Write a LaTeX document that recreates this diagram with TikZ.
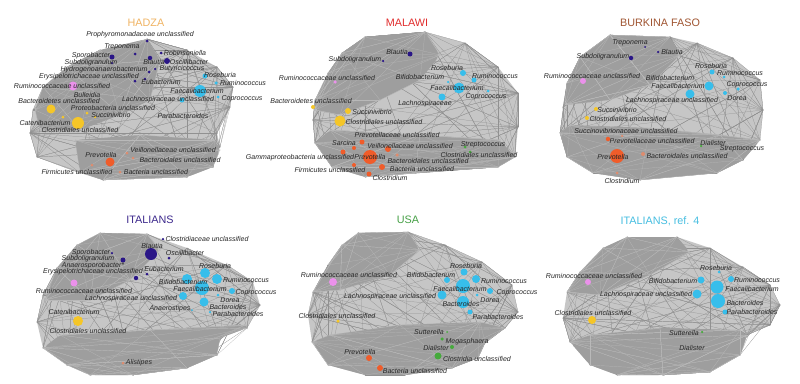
\documentclass[tikz,border=0pt]{standalone}
\usepackage{fontspec}
\setmainfont{Liberation Sans}
\definecolor{navy}{RGB}{42,22,135}
\definecolor{lblue}{RGB}{55,190,235}
\definecolor{pinkc}{RGB}{235,145,235}
\definecolor{yell}{RGB}{245,198,40}
\definecolor{orng}{RGB}{240,92,42}
\definecolor{grn}{RGB}{70,170,60}
\definecolor{salm}{RGB}{222,140,110}
\definecolor{tHad}{RGB}{240,180,100}
\definecolor{tMal}{RGB}{225,45,45}
\definecolor{tBur}{RGB}{160,85,50}
\definecolor{tIta}{RGB}{60,40,140}
\definecolor{tUsa}{RGB}{70,160,70}
\definecolor{tRef}{RGB}{70,190,225}
\definecolor{hullc}{RGB}{198,198,198}
\definecolor{densec}{RGB}{158,158,158}
\definecolor{edgec}{RGB}{145,145,145}
\definecolor{dedgec}{RGB}{185,185,185}
\tikzset{
  hullfill/.style={fill=hullc},
  densefill/.style={fill=densec, rounded corners=5pt},
  edge/.style={draw=edgec, line width=0.22pt},
  dedge/.style={draw=dedgec, line width=0.2pt},
  bug/.style 2 args={circle, fill=#1, inner sep=0pt, minimum size=#2},
  lab/.style={font=\fontsize{7}{8}\selectfont\itshape, inner sep=0pt, text=black!85},
  ttl/.style={font=\fontsize{10.8}{12}\selectfont, inner sep=0pt}
}
% hull of a network: light fill and many edges between its vertices
\newcommand{\mknet}[3]{%
  \foreach \px/\py [count=\i] in {#3}{\coordinate (#1\i) at (\px,\py);}
  \fill[hullfill] (#11) \foreach \i in {2,...,#2}{ -- (#1\i)} -- cycle;
  \foreach \k in {1,...,150}{%
    \pgfmathrandominteger{\ra}{1}{#2}\pgfmathrandominteger{\rb}{1}{#2}%
    \draw[edge] (#1\ra) -- (#1\rb);}
}
% dense part of a network: darker fill, lighter edges
\newcommand{\mkdense}[3]{%
  \foreach \px/\py [count=\i] in {#3}{\coordinate (#1\i) at (\px,\py);}
  \fill[densefill] (#11) \foreach \i in {2,...,#2}{ -- (#1\i)} -- cycle;
  \foreach \k in {1,...,45}{%
    \pgfmathrandominteger{\ra}{1}{#2}\pgfmathrandominteger{\rb}{1}{#2}%
    \draw[dedge] (#1\ra) -- (#1\rb);}
}
\begin{document}
\begin{tikzpicture}[x=1pt,y=-1pt]
\pgfmathsetseed{7}
\fill[white] (0,0) rectangle (800,383);
\useasboundingbox (0,0) rectangle (800,383);

% ---------------- networks ----------------
\mknet{aH}{17}{147/39,187/50,217/67,233/87,230/107,217/133,220/147,213/167,187/177,103/180,80/173,37/157,30/133,33/110,43/87,67/67,100/50}
\mkdense{aL}{8}{75/140,140/135,215/140,220/150,213/167,187/177,103/180,80/172}
\mkdense{aU}{10}{67/67,100/50,147/39,160/60,150/100,120/115,80/130,40/130,35/110,43/87}

\mknet{bH}{16}{365/37,425/32,465/43,498/67,518/93,518/127,515/157,498/167,415/173,365/177,332/167,315/143,313/120,315/100,328/73,342/53}
\mkdense{bL}{9}{330/130,420/135,500/140,515/157,498/167,415/173,365/177,332/167,315/143}
\mkdense{bU}{10}{342/53,365/37,425/32,440/55,420/80,380/100,340/115,315/110,315/100,328/73}

\mknet{cH}{16}{610/35,670/37,697/43,733/58,760/80,763/110,760/140,743/160,717/173,640/180,593/173,567/157,560/133,563/107,567/83,580/57}
\mkdense{cL}{10}{570/125,650/128,720/135,760/140,743/160,717/173,640/180,593/173,567/157,560/133}
\mkdense{cU}{8}{580/57,610/35,670/37,680/55,650/85,610/100,565/105,567/83}

\mknet{dH}{18}{100/233,147/234,187/248,227/265,253/282,260/305,247/328,220/338,217/355,187/368,133/375,90/375,67/365,43/348,37/322,43/295,57/268,77/245}
\mkdense{dL}{11}{60/335,150/330,245/325,247/328,220/338,217/355,187/368,133/375,90/375,67/365,43/348}
\mkdense{dU}{8}{77/245,100/233,147/234,160/250,130/280,90/300,45/300,57/268}

\mknet{eH}{18}{358/233,408/232,445/245,482/262,512/285,518/312,505/328,485/342,478/358,452/368,405/375,365/375,328/365,312/342,308/315,313/292,328/265,342/245}
\mkdense{eL}{11}{330/335,400/325,480/322,505/328,485/342,478/358,452/368,405/375,365/375,328/365,312/342}
\mkdense{eU}{8}{342/245,358/233,408/232,420/250,390/275,340/290,313/292,328/265}

\mknet{fH}{18}{627/237,677/237,710/248,743/267,770/285,780/305,770/325,747/335,740/355,710/372,663/375,617/375,590/365,570/342,563/318,567/292,580/272,603/248}
\mkdense{fL}{10}{590/335,660/328,740/330,747/335,740/355,710/372,663/375,617/375,590/365,570/342}
\mkdense{fU}{8}{603/248,627/237,677/237,690/252,650/275,600/295,567/292,580/272}

% ---------------- titles ----------------
\node[ttl, text=tHad] (tA) at (146,23) {HADZA};
\node[ttl, text=tMal] (tB) at (407,23) {MALAWI};
\node[ttl, text=tBur] (tC) at (660,23) {BURKINA FASO};
\node[ttl, text=tIta] (tD) at (150,220) {ITALIANS};
\node[ttl, text=tUsa] (tE) at (408,220) {USA};
\node[ttl, text=tRef] (tF) at (660,221) {ITALIANS, ref. 4};

% ---------------- HADZA ----------------
\node[bug={navy}{3pt}] (aprop) at (147,41) {};
\node[bug={navy}{3pt}] (atrep) at (135,54) {};
\node[bug={navy}{5pt}] (aspor) at (112,57) {};
\node[bug={navy}{3pt}] (arobi) at (161,53) {};
\node[bug={navy}{4.5pt}] (ablau) at (150,58) {};
\node[bug={navy}{6pt}] (aosci) at (167,61) {};
\node[bug={navy}{2.5pt}] (asubd) at (112,63) {};
\node[bug={navy}{3pt}] (ahydr) at (149,72) {};
\node[bug={navy}{2.5pt}] (abuty) at (155,69) {};
\node[bug={navy}{3pt}] (aerys) at (145,79) {};
\node[bug={navy}{3pt}] (aeuba) at (135,81) {};
\node[bug={pinkc}{9pt}] (arumi) at (73,86) {};
\node[bug={lblue}{5pt}] (arose) at (205,76) {};
\node[bug={lblue}{3.5pt}] (arumc) at (216,83) {};
\node[bug={lblue}{12pt}] (afaec) at (200,91) {};
\node[bug={lblue}{3pt}] (acopr) at (218,97) {};
\node[bug={lblue}{5pt}] (alach) at (182,100) {};
\node[bug={yell}{9pt}] (abact) at (51,109) {};
\node[bug={yell}{3pt}] (aprot) at (87,113) {};
\node[bug={yell}{2.5pt}] (asucc) at (95,117) {};
\node[bug={yell}{3pt}] (acate) at (63,117) {};
\node[bug={yell}{12pt}] (aclos) at (78,123) {};
\node[bug={salm}{3pt}] (aveil) at (127,153) {};
\node[bug={orng}{9pt}] (aprev) at (110,162) {};
\node[bug={salm}{3pt}] (abacd) at (133,158) {};
\node[bug={salm}{3pt}] (afirm) at (92,165) {};
\node[bug={salm}{3pt}] (abacu) at (120,172) {};

\node[lab] (lAprop) at (140,35) {Prophyromonadaceae unclassified};
\node[lab] (lAtrep) at (122,47) {Treponema};
\node[lab] (lAspor) at (91,56) {Sporobacter};
\node[lab] (lArobi) at (185,53) {Robinsoniella};
\node[lab] (lAblau) at (154,62) {Blautia};
\node[lab] (lAosci) at (189,62) {Oscillibacter};
\node[lab] (lAsubd) at (91,63) {Subdoligranulum};
\node[lab] (lAhydr) at (104,70) {Hydrogenoanaerobacterium};
\node[lab] (lAbuty) at (182,69) {Butyricicoccus};
\node[lab] (lAerys) at (89,77) {Erysipelotrichaceae unclassified};
\node[lab] (lAeuba) at (161,82) {Eubacterium};
\node[lab] (lArumi) at (62,86) {Ruminococcaceae unclassified};
\node[lab] (lAbull) at (87,95) {Bulleidia};
\node[lab] (lArose) at (220,75) {Roseburia};
\node[lab] (lArumc) at (243,83) {Ruminococcus};
\node[lab] (lAfaec) at (197,91) {Faecalibacterium};
\node[lab] (lAcopr) at (242,99) {Coprococcus};
\node[lab] (lAlach) at (168,100) {Lachnospiraceae unclassified};
\node[lab] (lAbact) at (59,101) {Bacteroidetes unclassified};
\node[lab] (lAprot) at (113,108) {Proteobacteria unclassified};
\node[lab] (lAsucc) at (111,115) {Succinivibrio};
\node[lab] (lApara) at (183,116) {Parabacteroides};
\node[lab] (lAcate) at (45,123) {Catenibacterium};
\node[lab] (lAclos) at (80,130) {Clostridiales unclassified};
\node[lab] (lAveil) at (173,150) {Veillonellaceae unclassified};
\node[lab] (lAprev) at (101,155) {Prevotella};
\node[lab] (lAbacd) at (180,160) {Bacteroidales unclassified};
\node[lab] (lAfirm) at (77,172) {Firmicutes unclassified};
\node[lab] (lAbacu) at (156,172) {Bacteria unclassified};

% ---------------- MALAWI ----------------
\node[bug={navy}{5pt}] (bblau) at (410,54) {};
\node[bug={navy}{2.5pt}] (bsubd) at (383,61) {};
\node[bug={pinkc}{3.5pt}] (brumi) at (335,82) {};
\node[bug={lblue}{6pt}] (brose) at (463,73) {};
\node[bug={lblue}{5pt}] (brumc) at (474,80) {};
\node[bug={lblue}{2.5pt}] (bbifi) at (448,82) {};
\node[bug={lblue}{11pt}] (bfaec) at (459,88) {};
\node[bug={lblue}{3pt}] (bcopr) at (488,91) {};
\node[bug={lblue}{7pt}] (blach) at (442,97) {};
\node[bug={yell}{4pt}] (bbact) at (313,107) {};
\node[bug={yell}{6pt}] (bsucc) at (348,111) {};
\node[bug={yell}{11pt}] (bclos) at (340,121) {};
\node[bug={orng}{5pt}] (bpret) at (362,142) {};
\node[bug={orng}{4pt}] (bsarc) at (354,148) {};
\node[bug={orng}{6pt}] (bveil) at (388,149) {};
\node[bug={orng}{5pt}] (bgamm) at (343,152) {};
\node[bug={orng}{14pt}] (bprev) at (370,157) {};
\node[bug={salm}{3.5pt}] (bbacd) at (397,155) {};
\node[bug={orng}{4pt}] (bfirm) at (354,165) {};
\node[bug={orng}{6pt}] (bbacu) at (382,167) {};
\node[bug={orng}{5pt}] (bclom) at (369,174) {};
\node[bug={grn}{3pt}] (bstrp) at (465,147) {};
\node[bug={grn}{3pt}] (bclog) at (470,152) {};

\node[lab] (lBblau) at (397,52) {Blautia};
\node[lab] (lBsubd) at (355,60) {Subdoligranulum};
\node[lab] (lBrumi) at (327,78) {Ruminococcaceae unclassified};
\node[lab] (lBbifi) at (420,77) {Bifidobacterium};
\node[lab] (lBrose) at (447,68) {Roseburia};
\node[lab] (lBrumc) at (495,76) {Ruminococcus};
\node[lab] (lBfaec) at (457,88) {Faecalibacterium};
\node[lab] (lBcopr) at (486,97) {Coprococcus};
\node[lab] (lBlach) at (425,104) {Lachnospiraceae};
\node[lab] (lBbact) at (311,101) {Bacteroidetes unclassified};
\node[lab] (lBsucc) at (372,112) {Succinivibrio};
\node[lab] (lBclos) at (384,122) {Clostridiales unclassified};
\node[lab] (lBpret) at (397,135) {Prevotellaceae unclassified};
\node[lab] (lBsarc) at (344,143) {Sarcina};
\node[lab] (lBveil) at (410,146) {Veillonellaceae unclassified};
\node[lab] (lBstrp) at (483,145) {Streptococcus};
\node[lab] (lBclog) at (479,155) {Clostridiales unclassified};
\node[lab] (lBgamm) at (300,158) {Gammaproteobacteria unclassified};
\node[lab] (lBprev) at (370,157) {Prevotella};
\node[lab] (lBbacd) at (428,161) {Bacteroidales unclassified};
\node[lab] (lBfirm) at (330,170) {Firmicutes unclassified};
\node[lab] (lBbacu) at (422,169) {Bacteria unclassified};
\node[lab] (lBclom) at (390,178) {Clostridium};

% ---------------- BURKINA FASO ----------------
\node[bug={navy}{2pt}] (ctrep) at (645,47) {};
\node[bug={navy}{2.5pt}] (cblau) at (658,52) {};
\node[bug={navy}{4.5pt}] (csubd) at (631,58) {};
\node[bug={pinkc}{6pt}] (crumi) at (583,81) {};
\node[bug={lblue}{5pt}] (crose) at (712,72) {};
\node[bug={lblue}{3pt}] (crumc) at (724,77) {};
\node[bug={lblue}{9pt}] (cfaec) at (709,86) {};
\node[bug={lblue}{3.5pt}] (ccopr) at (738,89) {};
\node[bug={lblue}{4pt}] (cdore) at (725,93) {};
\node[bug={lblue}{9pt}] (clach) at (690,94) {};
\node[bug={yell}{4pt}] (csucc) at (596,109) {};
\node[bug={yell}{4pt}] (cclos) at (587,118) {};
\node[bug={salm}{2.5pt}] (csucn) at (622,136) {};
\node[bug={orng}{4.5pt}] (cpret) at (608,139) {};
\node[bug={grn}{2.5pt}] (cdial) at (701,146) {};
\node[bug={orng}{14pt}] (cprev) at (617,156) {};
\node[bug={salm}{4pt}] (cbacd) at (643,154) {};
\node[bug={salm}{3pt}] (cclom) at (617,173) {};

\node[lab] (lCtrep) at (630,43) {Treponema};
\node[lab] (lCblau) at (672,52) {Blautia};
\node[lab] (lCsubd) at (603,57) {Subdoligranulum};
\node[lab] (lCrumi) at (592,76) {Ruminococcaceae unclassified};
\node[lab] (lCrose) at (711,66) {Roseburia};
\node[lab] (lCrumc) at (740,73) {Ruminococcus};
\node[lab] (lCbifi) at (670,78) {Bifidobacterium};
\node[lab] (lCfaec) at (678,86) {Faecalibacterium};
\node[lab] (lCcopr) at (747,85) {Coprococcus};
\node[lab] (lCdore) at (737,98) {Dorea};
\node[lab] (lClach) at (672,101) {Lachnospiraceae unclassified};
\node[lab] (lCsucc) at (617,110) {Succinivibrio};
\node[lab] (lCclos) at (628,119) {Clostridiales unclassified};
\node[lab] (lCsucn) at (626,131) {Succinovibrionaceae unclassified};
\node[lab] (lCpret) at (652,141) {Prevotellaceae unclassified};
\node[lab] (lCdial) at (713,143) {Dialister};
\node[lab] (lCstrp) at (742,149) {Streptococcus};
\node[lab] (lCprev) at (613,157) {Prevotella};
\node[lab] (lCbacd) at (687,156) {Bacteroidales unclassified};
\node[lab] (lCclom) at (622,181) {Clostridium};

% ---------------- ITALIANS ----------------
\node[bug={navy}{2.5pt}] (dclcc) at (163,239) {};
\node[bug={navy}{12pt}] (dblau) at (151,254) {};
\node[bug={navy}{3pt}] (dosci) at (169,258) {};
\node[bug={navy}{2.5pt}] (dspor) at (112,253) {};
\node[bug={navy}{5pt}] (dsubd) at (123,260) {};
\node[bug={navy}{3pt}] (deuba) at (147,274) {};
\node[bug={navy}{4.5pt}] (derys) at (136,278) {};
\node[bug={pinkc}{7pt}] (drumi) at (74,283) {};
\node[bug={lblue}{10pt}] (drose) at (205,273) {};
\node[bug={lblue}{10pt}] (drumc) at (217,279) {};
\node[bug={lblue}{10pt}] (dbifi) at (187,279) {};
\node[bug={lblue}{14pt}] (dfaec) at (202,288) {};
\node[bug={lblue}{6pt}] (dcopr) at (232,291) {};
\node[bug={lblue}{3pt}] (ddore) at (218,295) {};
\node[bug={lblue}{9pt}] (dbacs) at (204,302) {};
\node[bug={lblue}{8pt}] (dlach) at (183,296) {};
\node[bug={lblue}{2pt}] (danas) at (192,310) {};
\node[bug={lblue}{2.5pt}] (dpara) at (210,312) {};
\node[bug={yell}{10pt}] (dclos) at (78,321) {};
\node[bug={salm}{3pt}] (dalis) at (123,363) {};

\node[lab] (lDclcc) at (207,239) {Clostridiaceae unclassified};
\node[lab] (lDblau) at (152,246) {Blautia};
\node[lab] (lDosci) at (185,253) {Oscillibacter};
\node[lab] (lDspor) at (91,253) {Sporobacter};
\node[lab] (lDsubd) at (88,259) {Subdoligranulum};
\node[lab] (lDanae) at (93,266) {Anaerosporobacter*};
\node[lab] (lDeuba) at (164,269) {Eubacterium};
\node[lab] (lDerys) at (93,272) {Erysipelotrichaceae unclassified};
\node[lab] (lDrose) at (215,266) {Roseburia};
\node[lab] (lDrumc) at (246,280) {Ruminococcus};
\node[lab] (lDbifi) at (183,282) {Bifidobacterium};
\node[lab] (lDfaec) at (200,289) {Faecalibacterium};
\node[lab] (lDcopr) at (256,293) {Coprococcus};
\node[lab] (lDdore) at (230,300) {Dorea};
\node[lab] (lDbacs) at (228,307) {Bacteroides};
\node[lab] (lDrumi) at (84,291) {Ruminococcaceae unclassified};
\node[lab] (lDlach) at (131,299) {Lachnospiraceae unclassified};
\node[lab] (lDanas) at (170,309) {Anaerostipes};
\node[lab] (lDpara) at (238,314) {Parabacteroides};
\node[lab] (lDcate) at (74,312) {Catenibacterium};
\node[lab] (lDclos) at (88,331) {Clostridiales unclassified};
\node[lab] (lDalis) at (139,363) {Alistipes};

% ---------------- USA ----------------
\node[bug={lblue}{7pt}] (erose) at (464,272) {};
\node[bug={pinkc}{8pt}] (erumi) at (333,282) {};
\node[bug={lblue}{6pt}] (ebifi) at (447,280) {};
\node[bug={lblue}{8pt}] (erumc) at (476,279) {};
\node[bug={lblue}{14pt}] (efaec) at (463,286) {};
\node[bug={lblue}{6pt}] (ecopr) at (490,291) {};
\node[bug={lblue}{9pt}] (elach) at (442,295) {};
\node[bug={lblue}{12pt}] (ebacs) at (463,302) {};
\node[bug={lblue}{3pt}] (edore) at (477,295) {};
\node[bug={lblue}{5pt}] (epara) at (470,312) {};
\node[bug={yell}{3.5pt}] (eclos) at (338,321) {};
\node[bug={grn}{2pt}] (esutt) at (447,332) {};
\node[bug={grn}{3.5pt}] (emega) at (442,339) {};
\node[bug={grn}{4pt}] (edial) at (452,347) {};
\node[bug={orng}{6pt}] (eprev) at (369,358) {};
\node[bug={grn}{7pt}] (eclou) at (438,356) {};
\node[bug={orng}{6pt}] (ebacu) at (380,368) {};

\node[lab] (lErose) at (466,266) {Roseburia};
\node[lab] (lErumi) at (349,275) {Ruminococcaceae unclassified};
\node[lab] (lEbifi) at (431,275) {Bifidobacterium};
\node[lab] (lErumc) at (504,281) {Ruminococcus};
\node[lab] (lEfaec) at (460,289) {Faecalibacterium};
\node[lab] (lEcopr) at (517,293) {Coprococcus};
\node[lab] (lElach) at (390,297) {Lachnospiraceae unclassified};
\node[lab] (lEbacs) at (461,304) {Bacteroides};
\node[lab] (lEdore) at (490,300) {Dorea};
\node[lab] (lEpara) at (498,317) {Parabacteroides};
\node[lab] (lEclos) at (337,316) {Clostridiales unclassified};
\node[lab] (lEsutt) at (429,332) {Sutterella};
\node[lab] (lEmega) at (467,342) {Megasphaera};
\node[lab] (lEdial) at (436,348) {Dialister};
\node[lab] (lEprev) at (360,352) {Prevotella};
\node[lab] (lEclou) at (477,359) {Clostridia unclassified};
\node[lab] (lEbacu) at (415,371) {Bacteria unclassified};

% ---------------- ITALIANS, ref. 4 ----------------
\node[bug={lblue}{3pt}] (frose) at (719,272) {};
\node[bug={pinkc}{6pt}] (frumi) at (588,282) {};
\node[bug={lblue}{7pt}] (fbifi) at (701,280) {};
\node[bug={lblue}{6pt}] (frumc) at (731,279) {};
\node[bug={lblue}{13pt}] (ffaec) at (717,287) {};
\node[bug={lblue}{9pt}] (flach) at (697,294) {};
\node[bug={lblue}{14pt}] (fbacs) at (718,301) {};
\node[bug={lblue}{5pt}] (fpara) at (725,312) {};
\node[bug={yell}{8pt}] (fclos) at (592,320) {};
\node[bug={grn}{2.5pt}] (fsutt) at (702,332) {};

\node[lab] (lFrose) at (716,268) {Roseburia};
\node[lab] (lFrumi) at (594,276) {Ruminococcaceae unclassified};
\node[lab] (lFbifi) at (673,281) {Bifidobacterium};
\node[lab] (lFrumc) at (757,280) {Ruminococcus};
\node[lab] (lFfaec) at (752,289) {Faecalibacterium};
\node[lab] (lFlach) at (646,295) {Lachnospiraceae unclassified};
\node[lab] (lFbacs) at (745,303) {Bacteroides};
\node[lab] (lFpara) at (752,312) {Parabacteroides};
\node[lab] (lFclos) at (593,313) {Clostridiales unclassified};
\node[lab] (lFsutt) at (684,333) {Sutterella};
\node[lab] (lFdial) at (692,348) {Dialister};
\end{tikzpicture}
\end{document}
